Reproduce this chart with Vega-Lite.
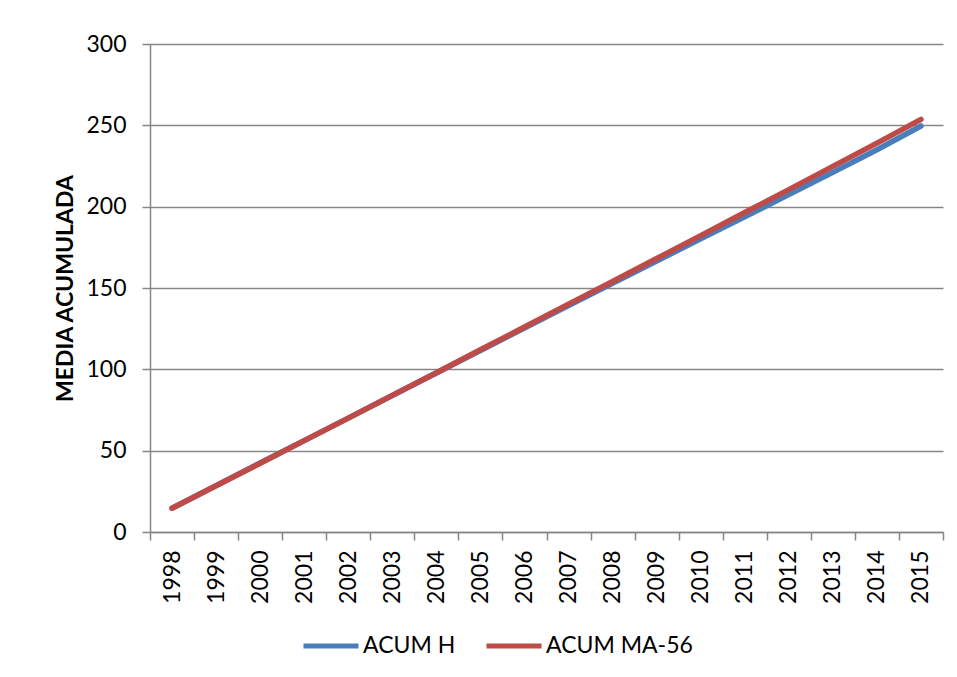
{
  "$schema": "https://vega.github.io/schema/vega-lite/v6.json",
  "width": 793,
  "height": 488,
  "autosize": "none",
  "padding": {"left": 150, "top": 44, "right": 14, "bottom": 145},
  "background": "white",
  "config": {
    "view": {"stroke": null},
    "font": "Lato",
    "axis": {
      "domainColor": "#868686",
      "domainWidth": 1.5,
      "tickColor": "#868686",
      "tickWidth": 1.5,
      "tickSize": 8,
      "gridColor": "#868686",
      "gridWidth": 1.5,
      "labelColor": "#000000",
      "labelFont": "Lato",
      "labelFontSize": 23,
      "titleColor": "#000000"
    }
  },
  "data": {
    "values": [
      {"year": "1998", "series": "ACUM H", "value": 14.6},
      {"year": "1999", "series": "ACUM H", "value": 28.5},
      {"year": "2000", "series": "ACUM H", "value": 42.4},
      {"year": "2001", "series": "ACUM H", "value": 56.2},
      {"year": "2002", "series": "ACUM H", "value": 70.0},
      {"year": "2003", "series": "ACUM H", "value": 83.9},
      {"year": "2004", "series": "ACUM H", "value": 97.7},
      {"year": "2005", "series": "ACUM H", "value": 111.6},
      {"year": "2006", "series": "ACUM H", "value": 125.4},
      {"year": "2007", "series": "ACUM H", "value": 139.2},
      {"year": "2008", "series": "ACUM H", "value": 152.9},
      {"year": "2009", "series": "ACUM H", "value": 166.6},
      {"year": "2010", "series": "ACUM H", "value": 180.2},
      {"year": "2011", "series": "ACUM H", "value": 193.8},
      {"year": "2012", "series": "ACUM H", "value": 207.4},
      {"year": "2013", "series": "ACUM H", "value": 221.1},
      {"year": "2014", "series": "ACUM H", "value": 235.0},
      {"year": "2015", "series": "ACUM H", "value": 249.6},
      {"year": "1998", "series": "ACUM MA-56", "value": 14.6},
      {"year": "1999", "series": "ACUM MA-56", "value": 28.4},
      {"year": "2000", "series": "ACUM MA-56", "value": 42.3},
      {"year": "2001", "series": "ACUM MA-56", "value": 56.2},
      {"year": "2002", "series": "ACUM MA-56", "value": 70.0},
      {"year": "2003", "series": "ACUM MA-56", "value": 84.0},
      {"year": "2004", "series": "ACUM MA-56", "value": 97.9},
      {"year": "2005", "series": "ACUM MA-56", "value": 112.0},
      {"year": "2006", "series": "ACUM MA-56", "value": 126.0},
      {"year": "2007", "series": "ACUM MA-56", "value": 140.1},
      {"year": "2008", "series": "ACUM MA-56", "value": 154.0},
      {"year": "2009", "series": "ACUM MA-56", "value": 168.1},
      {"year": "2010", "series": "ACUM MA-56", "value": 182.2},
      {"year": "2011", "series": "ACUM MA-56", "value": 196.4},
      {"year": "2012", "series": "ACUM MA-56", "value": 210.5},
      {"year": "2013", "series": "ACUM MA-56", "value": 224.8},
      {"year": "2014", "series": "ACUM MA-56", "value": 239.1},
      {"year": "2015", "series": "ACUM MA-56", "value": 253.7}
    ]
  },
  "mark": {"type": "line", "strokeWidth": 5.5, "strokeCap": "round", "strokeJoin": "round"},
  "encoding": {
    "x": {
      "field": "year",
      "type": "ordinal",
      "scale": {"type": "band", "paddingInner": 0, "paddingOuter": 0},
      "axis": {
        "title": null,
        "labelAngle": -90,
        "labelPadding": 10,
        "tickBand": "extent",
        "grid": false
      }
    },
    "y": {
      "field": "value",
      "type": "quantitative",
      "scale": {"domain": [0, 300], "nice": false},
      "axis": {
        "title": "MEDIA ACUMULADA",
        "titleFont": "Lato",
        "titleFontSize": 23,
        "titleFontWeight": "bold",
        "titleAngle": -90,
        "titleBaseline": "alphabetic",
        "titleX": -78,
        "titleY": 244,
        "titleAlign": "center",
        "values": [0, 50, 100, 150, 200, 250, 300],
        "labelPadding": 16,
        "grid": true
      }
    },
    "color": {
      "field": "series",
      "type": "nominal",
      "scale": {"domain": ["ACUM H", "ACUM MA-56"], "range": ["#4A7EBB", "#BE4B48"]},
      "legend": {
        "title": null,
        "orient": "none",
        "direction": "horizontal",
        "legendX": 151,
        "legendY": 572,
        "symbolType": "stroke",
        "symbolSize": 3025,
        "symbolStrokeWidth": 5,
        "labelFont": "Lato",
        "labelFontSize": 23,
        "labelColor": "#000000",
        "labelOffset": 2,
        "columnPadding": 20
      }
    }
  }
}
